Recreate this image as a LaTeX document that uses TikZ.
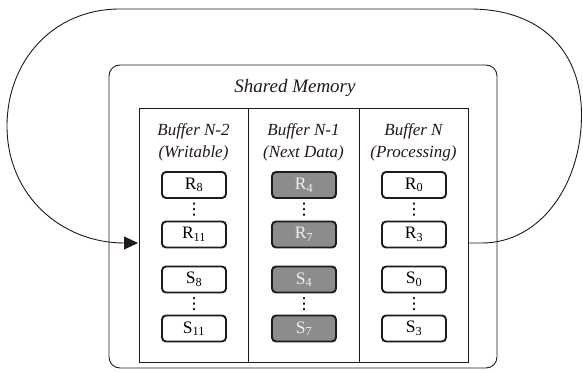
\documentclass[tikz,border=0pt]{standalone}
\usepackage{fontspec}
\setmainfont{Liberation Serif}
\usetikzlibrary{arrows.meta}
\definecolor{boxgray}{RGB}{140,140,140}
\definecolor{linecol}{RGB}{35,25,22}
\begin{document}
\begin{tikzpicture}[x=1pt,y=-1pt,
  membox/.style={draw=linecol, line width=1.9pt, rounded corners=4pt, minimum width=64pt, minimum height=26pt, inner sep=0pt, font=\fontsize{17.5}{18}\selectfont, fill=white},
  graybox/.style={membox, fill=boxgray, text=gray!12},
  header/.style={font=\fontsize{17}{22}\selectfont\itshape, align=center, text=linecol},
  thinline/.style={draw=linecol, line width=0.9pt},
  vdots/.style={draw=linecol, line width=1.3pt, dash pattern=on 1.3pt off 4.2pt, line cap=round}
]
\useasboundingbox (0,0) rectangle (583,372);
% shared memory box
\node[thinline, rounded corners=11pt, minimum width=388pt, minimum height=303pt, inner sep=0pt] (shm) at (303,216.5) {};
\node[header, font=\fontsize{19}{22}\selectfont\itshape] (shmlabel) at (295,88) {Shared Memory};
% table
\node[thinline, minimum width=329pt, minimum height=254pt, inner sep=0pt] (tbl) at (303.5,235) {};
\draw[thinline] (248,108) -- (248,362);
\draw[thinline] (359,108) -- (359,362);
% headers
\node[header] (h1) at (193.5,142) {Buffer N-2\\(Writable)};
\node[header] (h2) at (303.5,142) {Buffer N-1\\(Next Data)};
\node[header] (h3) at (413.5,142) {Buffer N\\(Processing)};
% column 1
\node[membox] (a1) at (194,185) {R\textsubscript{8}};
\node[membox] (a2) at (194,234.5) {R\textsubscript{11}};
\node[membox] (a3) at (194,279.5) {S\textsubscript{8}};
\node[membox] (a4) at (194,328.5) {S\textsubscript{11}};
% column 2
\node[graybox] (b1) at (304,185) {R\textsubscript{4}};
\node[graybox] (b2) at (304,234.5) {R\textsubscript{7}};
\node[graybox] (b3) at (304,279.5) {S\textsubscript{4}};
\node[graybox] (b4) at (304,328.5) {S\textsubscript{7}};
% column 3
\node[membox] (c1) at (414,185) {R\textsubscript{0}};
\node[membox] (c2) at (414,234.5) {R\textsubscript{3}};
\node[membox] (c3) at (414,279.5) {S\textsubscript{0}};
\node[membox] (c4) at (414,328.5) {S\textsubscript{3}};
% dots
\foreach \n in {a,b,c}{
  \draw[vdots] ([yshift=-4pt]\n1.south) -- ([yshift=4pt]\n2.north);
  \draw[vdots] ([yshift=-4pt]\n3.south) -- ([yshift=4pt]\n4.north);
}
% loop
\coordinate (start) at (468,243);
\coordinate (end) at (138,243);
\draw[thinline, -{Triangle[length=14pt,width=13pt]}] (start) -- (482,243)
  .. controls (540,243) and (581.5,185) .. (581.5,115)
  .. controls (581.5,50) and (540,9) .. (470,9)
  -- (120,9)
  .. controls (52,9) and (7,62) .. (7,126)
  .. controls (7,196) and (62,243) .. (end);
\end{tikzpicture}
\end{document}
